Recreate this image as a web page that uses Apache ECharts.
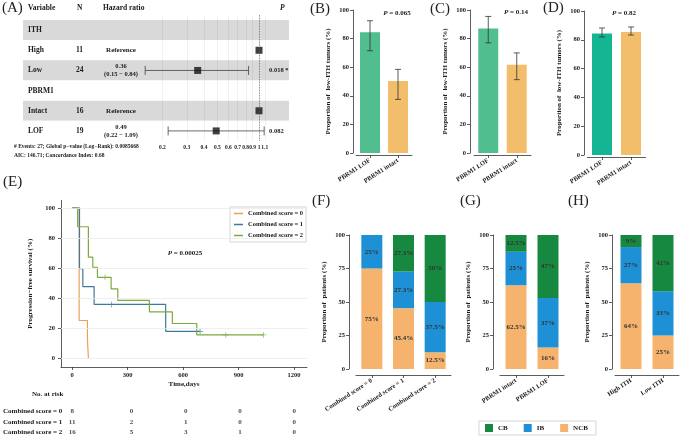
<!DOCTYPE html>
<html><head><meta charset="utf-8">
<script src="https://cdn.jsdelivr.net/npm/echarts@6/dist/echarts.min.js"></script>
<style>html,body{margin:0;padding:0;background:#fff}#c{width:683px;height:438px}</style>
</head><body><div id="c"></div>
<script>
// ---------- Panel A: forest plot ----------
const forestRows = ['ITH', 'High', 'Low', 'PBRM1', 'Intact', 'LOF'];
const forestN = ['', '11', '24', '', '16', '19'];
const forestHR = [null, 1, 0.36, null, 1, 0.49];
const forestLo = [null, null, 0.15, null, null, 0.22];
const forestHi = [null, null, 0.84, null, null, 1.09];
const forestHRText = ['', 'Reference', '0.36', '', 'Reference', '0.49'];
const forestCIText = ['', '', '(0.15 \u2212 0.84)', '', '', '(0.22 \u2212 1.09)'];
const forestP = ['', '', '0.018 *', '', '', '0.082'];
const forestTicks = [0.2, 0.3, 0.4, 0.5, 0.6, 0.7, 0.8, 0.9, 1, 1.1];
const forestNote1 = '# Events: 27; Global p\u2212value (Log\u2212Rank): 0.0085668';
const forestNote2 = 'AIC: 146.71; Concordance Index: 0.68';

// ---------- Panels B-D: low-ITH proportion ----------
const lowIthCats = ['PBRM1 LOF', 'PBRM1 intact'];
const bVals = [84.5, 50.3], bLo = [71.5, 37.5], bHi = [92.5, 58.5];
const cVals = [87, 61.8], cLo = [77, 51.3], cHi = [95.5, 70];
const dVals = [84.3, 85.4], dLo = [82, 83.3], dHi = [88.2, 88.9];
const bP = '0.065', cP = '0.14', dP = '0.82';

// ---------- Panel E: Kaplan-Meier ----------
const kmNames = ['Combined score = 0', 'Combined score = 1', 'Combined score = 2'];
const km0T = [0, 38, 83, 88], km0S = [100, 25, 12.5, 0];
const km1T = [0, 40, 58, 119, 506, 692], km1S = [100, 59.5, 47.6, 35.7, 17.8, 17.8];
const km2T = [0, 30, 88, 112, 137, 211, 247, 418, 542, 674, 1034];
const km2S = [100, 87.5, 67.3, 60.5, 53.8, 46.1, 38.4, 30.7, 23.0, 15.4, 15.4];
const km1Cens = [[214, 35.7], [692, 17.8]];
const km2Cens = [[178, 53.8], [831, 15.4], [1034, 15.4]];
const kmXTicks = [0, 300, 600, 900, 1200];
const kmYTicks = [0, 20, 40, 60, 80, 100];
const kmP = '0.00025';
const riskTimes = [0, 300, 600, 900, 1200];
const risk0 = [8, 0, 0, 0, 0];
const risk1 = [11, 2, 1, 0, 0];
const risk2 = [16, 5, 3, 1, 0];

// ---------- Panels F-H: stacked response ----------
const fCats = ['Combined score = 0', 'Combined score = 1', 'Combined score = 2'];
const fCB = [0, 27.3, 50], fIB = [25, 27.3, 37.5], fNCB = [75, 45.4, 12.5];
const gCats = ['PBRM1 intact', 'PBRM1 LOF'];
const gCB = [12.5, 47], gIB = [25, 37], gNCB = [62.5, 16];
const hCats = ['High ITH', 'Low ITH'];
const hCB = [9, 42], hIB = [27, 33], hNCB = [64, 25];
const stackTicks = 25;

// ---------- styles ----------
const FF = '"Liberation Serif","DejaVu Serif",serif';
const TXT = '#1a1a1a';
const AX = '#333333';
const C_CB = '#17883F', C_IB = '#1E90D6', C_NCB = '#F5B36E';
const C_GREEN = '#50BE8E', C_ORANGE = '#F2BE6B', C_TEAL = '#13B592';
const KM_COL = ['#EBA055', '#3E7B9A', '#7DAA3F'];
const lab = { fontFamily: FF, fontWeight: 'bold', fontSize: 6.5, color: TXT };
const nameStyle = { fontFamily: FF, fontWeight: 'bold', fontSize: 7, color: TXT };
function axLine() { return { show: true, onZero: false, lineStyle: { color: AX, width: 0.8 } }; }
function axTick(extra) { return Object.assign({ show: true, length: 3, lineStyle: { color: AX, width: 0.8 } }, extra || {}); }
const PLUS = 'path://M4.4,0h1.2v4.4h4.4v1.2h-4.4v4.4h-1.2v-4.4h-4.4v-1.2h4.4z';

const chart = echarts.init(document.getElementById('c'));

const grids = [
  { left: 23, top: 20, width: 266, height: 121 },       // 0 A bands
  { left: 139, top: 15, width: 130, height: 126 },      // 1 A forest
  { left: 356, top: 10, width: 56, height: 143 },       // 2 B
  { left: 474, top: 10, width: 57, height: 143 },       // 3 C
  { left: 587.5, top: 11, width: 58, height: 144 },     // 4 D
  { left: 61, top: 200.5, width: 246, height: 166.5 },  // 5 E
  { left: 61, top: 406, width: 246, height: 33 },       // 6 risk table
  { left: 356, top: 235, width: 95, height: 134 },      // 7 F
  { left: 500, top: 235, width: 64, height: 134 },      // 8 G
  { left: 615, top: 235, width: 64, height: 134 }       // 9 H
];

const xAxes = [], yAxes = [];
xAxes.push({ gridIndex: 0, type: 'value', show: false, min: 0, max: 1 });
yAxes.push({ gridIndex: 0, type: 'category', data: forestRows, inverse: true,
  axisLine: { show: false }, axisTick: { show: false },
  axisLabel: { inside: true, margin: 5, fontFamily: FF, fontWeight: 'bold', fontSize: 7.5, color: TXT },
  splitArea: { show: true, areaStyle: { color: ['#D9D9D9', '#FFFFFF'] } }, splitLine: { show: false } });
xAxes.push({ gridIndex: 1, type: 'value', min: -2, max: 1 / 6,
  axisLine: { show: false }, axisTick: { show: false }, splitLine: { show: false },
  axisLabel: { customValues: forestTicks.map(Math.log), formatter: v => String(Math.round(Math.exp(v) * 10) / 10),
    fontFamily: FF, fontWeight: 'bold', fontSize: 5.5, color: TXT, margin: 4 } });
yAxes.push({ gridIndex: 1, type: 'value', min: -0.25, max: 6, inverse: true, show: false });

function catX(gi, cats, off) {
  return { gridIndex: gi, type: 'category', data: cats, offset: off,
    axisLine: axLine(), axisTick: axTick({ alignWithLabel: true }),
    axisLabel: Object.assign({ rotate: 33, interval: 0, margin: 5 }, lab) };
}
function valY(gi, off, interval, name) {
  return { gridIndex: gi, type: 'value', min: 0, max: 100, interval, offset: off,
    axisLine: axLine(), axisTick: axTick(), splitLine: { show: false },
    axisLabel: Object.assign({ margin: 4 }, lab),
    name, nameLocation: 'middle', nameGap: 21, nameTextStyle: nameStyle };
}
const lowName = 'Proportion of  low-ITH tumors (%)';
const patName = 'Proportion of  patients (%)';
xAxes.push(catX(2, lowIthCats, 2)); yAxes.push(valY(2, 3, 20, lowName));
xAxes.push(catX(3, lowIthCats, 2)); yAxes.push(valY(3, 4, 20, lowName));
xAxes.push(catX(4, lowIthCats, 2)); yAxes.push(valY(4, 3.5, 20, lowName));
xAxes.push({ gridIndex: 5, type: 'value', min: -60, max: 1270,
  axisLine: axLine(), axisTick: axTick({ customValues: kmXTicks }), splitLine: { show: false },
  axisLabel: Object.assign({ customValues: kmXTicks, margin: 5, formatter: v => String(v) }, lab),
  name: 'Time,days', nameLocation: 'middle', nameGap: 14, nameTextStyle: nameStyle });
yAxes.push({ gridIndex: 5, type: 'value', min: -6, max: 105, position: 'left',
  axisLine: axLine(), axisTick: axTick({ customValues: kmYTicks }), splitLine: { show: false },
  axisLabel: Object.assign({ customValues: kmYTicks, margin: 6, formatter: v => String(v) }, lab),
  name: 'Progression\u2212free survival (%)', nameLocation: 'middle', nameGap: 27, nameTextStyle: nameStyle });
xAxes.push({ gridIndex: 6, type: 'value', min: -60, max: 1270, show: false });
yAxes.push({ gridIndex: 6, type: 'category', data: kmNames, inverse: true,
  axisLine: { show: false }, axisTick: { show: false },
  axisLabel: Object.assign({ margin: 4 }, lab, { fontSize: 7 }) });
xAxes.push(catX(7, fCats, 6)); yAxes.push(valY(7, 7, stackTicks, patName));
xAxes.push(catX(8, gCats, 6)); yAxes.push(valY(8, 7, stackTicks, patName));
xAxes.push(catX(9, hCats, 6)); yAxes.push(valY(9, 3, stackTicks, patName));

const series = [];
series.push({ type: 'scatter', xAxisIndex: 1, yAxisIndex: 1, data: [], silent: true,
  markLine: { silent: true, symbol: 'none', label: { show: false },
    lineStyle: { color: 'rgba(0,0,0,0.07)', width: 0.8, type: 'solid' },
    data: forestTicks.filter(t => t !== 1).map(t => ({ xAxis: Math.log(t) })) } });
series.push({ type: 'scatter', xAxisIndex: 1, yAxisIndex: 1, data: [], silent: true,
  markLine: { silent: true, symbol: 'none', label: { show: false },
    lineStyle: { color: '#555', width: 0.8, type: 'dotted' }, data: [{ xAxis: Math.log(1) }] } });
series.push({ type: 'custom', xAxisIndex: 1, yAxisIndex: 1, z: 3,
  data: forestRows.map((r, i) => forestLo[i] == null ? null : [Math.log(forestLo[i]), Math.log(forestHi[i]), i + 0.5]).filter(d => d),
  encode: { x: [0, 1], y: 2 },
  renderItem: (p, api) => {
    const a = api.coord([api.value(0), api.value(2)]);
    const b = api.coord([api.value(1), api.value(2)]);
    const st = { stroke: '#444', lineWidth: 0.8 };
    return { type: 'group', children: [
      { type: 'line', shape: { x1: a[0], y1: a[1], x2: b[0], y2: b[1] }, style: st },
      { type: 'line', shape: { x1: a[0], y1: a[1] - 4.5, x2: a[0], y2: a[1] + 4.5 }, style: st },
      { type: 'line', shape: { x1: b[0], y1: b[1] - 4.5, x2: b[0], y2: b[1] + 4.5 }, style: st } ] };
  } });
series.push({ type: 'scatter', xAxisIndex: 1, yAxisIndex: 1, z: 4, symbol: 'rect', symbolSize: 7,
  itemStyle: { color: '#111' },
  data: forestRows.map((r, i) => forestHR[i] == null ? null : [Math.log(forestHR[i]), i + 0.5]).filter(d => d) });

function errSeries(gi, cats, lo, hi) {
  return { type: 'custom', xAxisIndex: gi, yAxisIndex: gi, z: 3,
    data: cats.map((c, i) => [i, lo[i], hi[i]]), encode: { x: 0, y: [1, 2] },
    renderItem: (p, api) => {
      const a = api.coord([api.value(0), api.value(1)]);
      const b = api.coord([api.value(0), api.value(2)]);
      const st = { stroke: '#333', lineWidth: 0.8 };
      return { type: 'group', children: [
        { type: 'line', shape: { x1: a[0], y1: a[1], x2: b[0], y2: b[1] }, style: st },
        { type: 'line', shape: { x1: a[0] - 3, y1: a[1], x2: a[0] + 3, y2: a[1] }, style: st },
        { type: 'line', shape: { x1: b[0] - 3, y1: b[1], x2: b[0] + 3, y2: b[1] }, style: st } ] };
    } };
}
function lowIth(gi, vals, lo, hi, cols) {
  series.push({ type: 'bar', xAxisIndex: gi, yAxisIndex: gi, barWidth: 20,
    data: vals.map((v, i) => ({ value: v, itemStyle: { color: cols[i] } })) });
  series.push(errSeries(gi, lowIthCats, lo, hi));
}
lowIth(2, bVals, bLo, bHi, [C_GREEN, C_ORANGE]);
lowIth(3, cVals, cLo, cHi, [C_GREEN, C_ORANGE]);
lowIth(4, dVals, dLo, dHi, [C_TEAL, C_ORANGE]);

series.push({ type: 'line', xAxisIndex: 5, yAxisIndex: 5, data: [[0, 0]], symbol: 'none',
  lineStyle: { opacity: 0 }, silent: true, z: 1,
  markLine: { silent: true, symbol: 'none', label: { show: false },
    lineStyle: { color: '#EBEBEB', width: 0.8, type: 'solid' }, data: kmYTicks.map(v => ({ yAxis: v })) } });
function km(name, T, S, color, cens) {
  series.push({ type: 'line', name, xAxisIndex: 5, yAxisIndex: 5, step: 'end', z: 3,
    data: T.map((t, i) => [t, S[i]]), symbol: 'none', showSymbol: false,
    lineStyle: { color, width: 1.2 }, itemStyle: { color } });
  if (cens.length) series.push({ type: 'scatter', xAxisIndex: 5, yAxisIndex: 5, z: 4, data: cens,
    symbol: PLUS, symbolSize: 6, itemStyle: { color } });
}
km(kmNames[0], km0T, km0S, KM_COL[0], []);
km(kmNames[1], km1T, km1S, KM_COL[1], km1Cens);
km(kmNames[2], km2T, km2S, KM_COL[2], km2Cens);
[risk0, risk1, risk2].forEach((arr, r) => {
  series.push({ type: 'scatter', xAxisIndex: 6, yAxisIndex: 6, symbolSize: 0,
    data: riskTimes.map((t, i) => ({ value: [t, kmNames[r], arr[i]],
      label: i === 0 ? { offset: [-5, 0] } : undefined })),
    label: { show: true, position: 'inside', formatter: p => String(p.value[2]),
      fontFamily: FF, fontWeight: 'bold', fontSize: 7, color: TXT } });
});

function stack(gi, cb, ib, ncb) {
  const mk = (name, data, color) => ({ type: 'bar', name, stack: 's' + gi, xAxisIndex: gi, yAxisIndex: gi,
    barWidth: 21, data, itemStyle: { color },
    label: { show: true, position: 'inside', formatter: p => p.value > 0 ? p.value + '%' : '',
      fontFamily: FF, fontWeight: 'bold', fontSize: 7, color: '#333' } });
  series.push(mk('NCB', ncb, C_NCB), mk('IB', ib, C_IB), mk('CB', cb, C_CB));
}
stack(7, fCB, fIB, fNCB);
stack(8, gCB, gIB, gNCB);
stack(9, hCB, hIB, hNCB);

const g = [];
function txt(text, x, y, o) {
  g.push({ type: 'text', x, y, z: 100, silent: true, style: Object.assign({ text, fill: TXT, fontFamily: FF,
    fontWeight: 'bold', fontSize: 7.5, align: 'left', verticalAlign: 'middle' }, o || {}) });
}
function letter(t, x, y) { txt(t, x, y, { fontWeight: 'normal', fontSize: 15, verticalAlign: 'top', fill: '#222' }); }
function ptxt(p, x, y) {
  txt('{i|P} = ' + p, x, y, { align: 'center', fontSize: 7,
    rich: { i: { fontStyle: 'italic', fontWeight: 'bold', fontFamily: FF, fontSize: 7, fill: TXT } } });
}
letter('(A)', 2, 1); letter('(B)', 310, 2); letter('(C)', 430, 2); letter('(D)', 543, 1);
letter('(E)', 3, 175); letter('(F)', 312, 194); letter('(G)', 460, 194); letter('(H)', 568, 194);
txt('Variable', 28, 8); txt('N', 77, 8); txt('Hazard ratio', 103, 8);
txt('P', 280, 8, { fontStyle: 'italic' });
forestRows.forEach((r, i) => {
  const y = 20 + (i + 0.5) * 121 / 6;
  if (forestN[i]) txt(forestN[i], 76, y);
  if (forestCIText[i]) {
    txt(forestHRText[i], 121, y - 4, { align: 'center', fontSize: 6.5 });
    txt(forestCIText[i], 121, y + 4, { align: 'center', fontSize: 6.5 });
  } else if (forestHRText[i]) txt(forestHRText[i], 121, y, { align: 'center', fontSize: 7 });
  if (forestP[i]) txt(forestP[i], 269, y, { fontSize: 6.5 });
});
txt(forestNote1, 14, 147, { fontSize: 5.5 });
txt(forestNote2, 14, 156, { fontSize: 5.5 });
ptxt(bP, 397, 13); ptxt(cP, 516, 12); ptxt(dP, 624, 13); ptxt(kmP, 185, 253);
txt('No. at risk', 32, 394, { fontSize: 7 });

chart.setOption({
  animation: false,
  backgroundColor: '#fff',
  grid: grids,
  xAxis: xAxes,
  yAxis: yAxes,
  legend: [
    { data: kmNames, orient: 'vertical', left: 230, top: 207, itemWidth: 9, itemHeight: 1.5, itemGap: 4,
      icon: 'rect', borderColor: '#ccc', borderWidth: 0.8, padding: [3, 3, 3, 4], selectedMode: false,
      textStyle: { fontFamily: FF, fontWeight: 'bold', fontSize: 6.5, color: TXT } },
    { data: ['CB', 'IB', 'NCB'], left: 479, top: 421, itemWidth: 8, itemHeight: 8, itemGap: 16,
      icon: 'rect', borderColor: '#ccc', borderWidth: 0.8, padding: [3, 8, 3, 6], selectedMode: false,
      textStyle: { fontFamily: FF, fontWeight: 'bold', fontSize: 7, color: TXT } }
  ],
  series,
  graphic: g
});
</script></body></html>
